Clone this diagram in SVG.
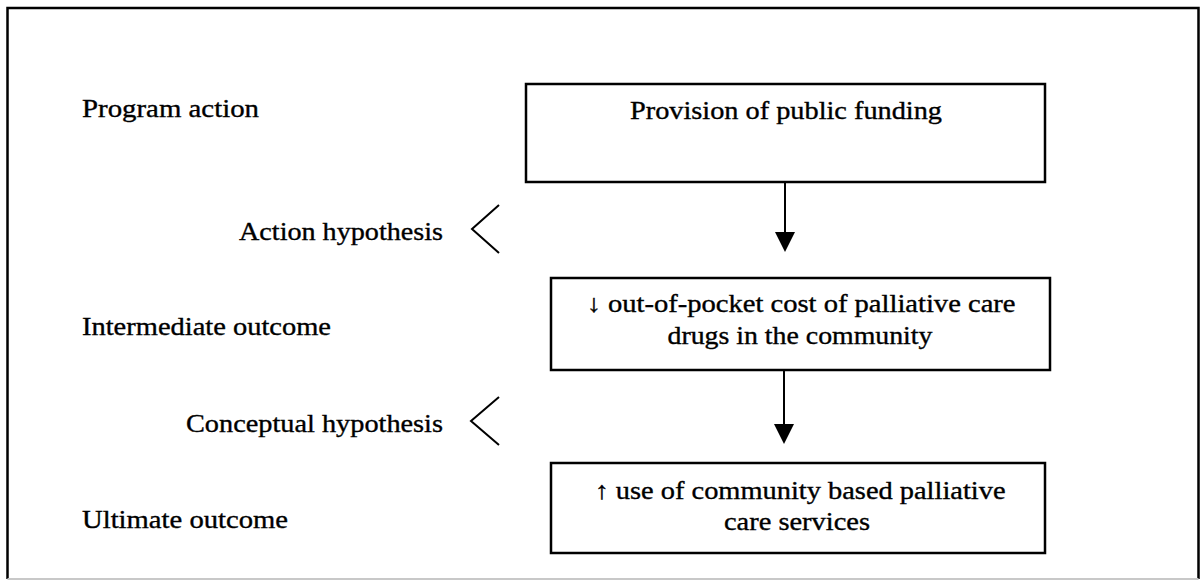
<svg xmlns="http://www.w3.org/2000/svg" width="1201" height="581" viewBox="0 0 1201 581">
  <style>
    .label { font-family: "Liberation Serif", "Times New Roman", serif; font-size: 25px; fill: #000; stroke: #000; stroke-width: 0.35; }
    .box { fill: #fff; stroke: #000; stroke-width: 2.5; }
    .boxtext { font-family: "Liberation Serif", "Times New Roman", serif; font-size: 24.5px; fill: #000; stroke: #000; stroke-width: 0.35; text-anchor: middle; }
    .edge { stroke: #000; stroke-width: 2; fill: none; }
    .chev { stroke: #000; stroke-width: 2; fill: none; stroke-linejoin: miter; }
    .frame { stroke: #000; stroke-width: 2.5; fill: none; }
  </style>
  <defs>
    <marker id="head" viewBox="0 0 20 20" markerWidth="20" markerHeight="20" markerUnits="userSpaceOnUse" refX="8" refY="10" orient="auto">
      <path d="M0,0 L20,10 L0,20 z" fill="#000"/>
    </marker>
  </defs>

  <rect width="1201" height="581" fill="#fff"/>

  <!-- outer frame -->
  <path class="frame" d="M7.5,579 L7.5,8 L1198.5,8 L1198.5,579"/>
  <line x1="7.5" y1="579" x2="1198.5" y2="579" stroke="#c8c8c8" stroke-width="2"/>

  <!-- level labels on the left -->
  <g id="levels">
    <text class="label" x="82" y="117" textLength="177" lengthAdjust="spacingAndGlyphs">Program action</text>
    <text class="label" x="82" y="335" textLength="249" lengthAdjust="spacingAndGlyphs">Intermediate outcome</text>
    <text class="label" x="82" y="528" textLength="206" lengthAdjust="spacingAndGlyphs">Ultimate outcome</text>
  </g>

  <g id="action-hypothesis">
    <text class="label" x="239" y="240" textLength="204" lengthAdjust="spacingAndGlyphs">Action hypothesis</text>
    <polyline class="chev" points="499,205 472,229 499,253"/>
  </g>

  <g id="conceptual-hypothesis">
    <text class="label" x="186" y="432" textLength="257" lengthAdjust="spacingAndGlyphs">Conceptual hypothesis</text>
    <polyline class="chev" points="499,397 471,421 499,445"/>
  </g>

  <!-- chain of boxes -->
  <g id="public-funding">
    <rect class="box" x="526" y="84" width="519" height="98"/>
    <text class="boxtext" x="786" y="119" textLength="312" lengthAdjust="spacingAndGlyphs">Provision of public funding</text>
  </g>

  <g id="out-of-pocket-cost">
    <rect class="box" x="551" y="278" width="499" height="92"/>
    <text class="boxtext" x="801" y="312" textLength="429" lengthAdjust="spacingAndGlyphs">↓ out-of-pocket cost of palliative care</text>
    <text class="boxtext" x="800" y="344" textLength="265" lengthAdjust="spacingAndGlyphs">drugs in the community</text>
  </g>

  <g id="community-care-use">
    <rect class="box" x="551" y="463" width="494" height="90"/>
    <text class="boxtext" x="800" y="499" textLength="411" lengthAdjust="spacingAndGlyphs">↑ use of community based palliative</text>
    <text class="boxtext" x="797" y="530" textLength="146" lengthAdjust="spacingAndGlyphs">care services</text>
  </g>

  <!-- connectors -->
  <g id="connectors">
    <line class="edge" x1="785" y1="182" x2="785" y2="240" marker-end="url(#head)"/>
    <line class="edge" x1="784" y1="370" x2="784" y2="432" marker-end="url(#head)"/>
  </g>
</svg>
